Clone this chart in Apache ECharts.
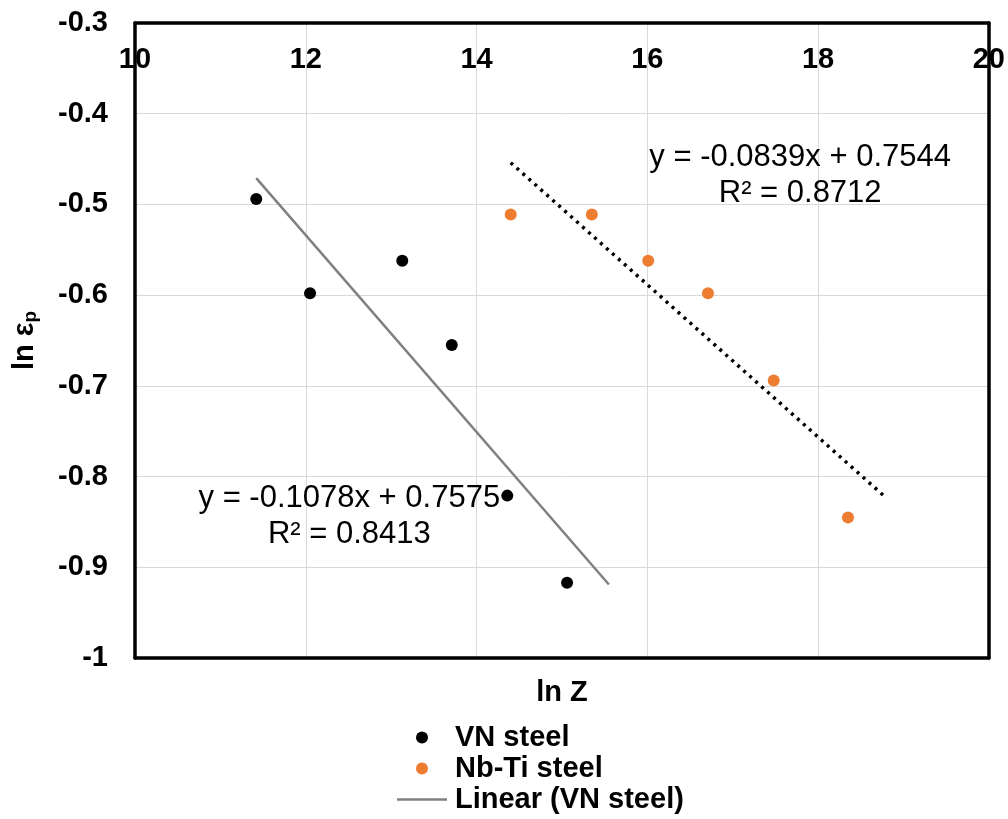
<!DOCTYPE html>
<html><head><meta charset="utf-8">
<script src="https://cdn.jsdelivr.net/npm/echarts@6/dist/echarts.min.js"></script>
<style>html,body{margin:0;padding:0;background:#fff}#c{width:1008px;height:819px}</style>
</head><body><div id="c"></div>
<script>
// Data
const vnSteel = [[11.42,-0.494],[12.05,-0.598],[13.13,-0.562],[13.71,-0.655],[14.36,-0.821],[15.06,-0.917]];
const nbTiSteel = [[14.40,-0.511],[15.35,-0.511],[16.01,-0.562],[16.71,-0.598],[17.48,-0.694],[18.35,-0.845]];
const vnTrend = [[11.42,-0.471],[15.55,-0.919]];
const nbTiTrend = [[14.40,-0.454],[18.78,-0.822]];
const vnEqPos = [[12.51,-0.8436]];
const nbEqPos = [[17.79,-0.4676]];
const vnEqText = 'y = -0.1078x + 0.7575\nR² = 0.8413';
const nbEqText = 'y = -0.0839x + 0.7544\nR² = 0.8712';

const FONT = '"Liberation Sans", Arial, sans-serif';
const BORDER = {show:true,lineStyle:{color:'#000',width:3.5}};
const chart = echarts.init(document.getElementById('c'));
chart.setOption({
  animation:false,
  textStyle:{fontFamily:FONT},
  grid:{left:135,top:23,right:19,bottom:161,show:false},
  xAxis:[{
    type:'value',position:'top',min:10,max:20,interval:2,
    axisLine:BORDER,axisTick:{show:false},
    splitLine:{show:true,lineStyle:{color:'#d9d9d9',width:1}},
    axisLabel:{inside:true,margin:22,color:'#000',fontWeight:'bold',fontSize:29,fontFamily:FONT}
  },{
    type:'value',position:'bottom',min:10,max:20,
    axisLine:BORDER,axisTick:{show:false},axisLabel:{show:false},splitLine:{show:false},
    name:'ln Z',nameLocation:'middle',nameGap:20,
    nameTextStyle:{color:'#000',fontWeight:'bold',fontSize:29,fontFamily:FONT}
  }],
  yAxis:[{
    type:'value',position:'left',min:-1,max:-0.3,interval:0.1,
    axisLine:BORDER,axisTick:{show:false},
    splitLine:{show:true,lineStyle:{color:'#d9d9d9',width:1}},
    axisLabel:{margin:27,color:'#000',fontWeight:'bold',fontSize:29,fontFamily:FONT,
      formatter:v=>{const r=Math.round(v*10)/10; return r===-1?'-1':String(r);}},
    name:'{a|ln ε}{b|p}',nameLocation:'middle',nameGap:95,nameRotate:90,
    nameTextStyle:{rich:{
      a:{color:'#000',fontWeight:'bold',fontSize:29,fontFamily:FONT},
      b:{color:'#000',fontWeight:'bold',fontSize:19,fontFamily:FONT,padding:[12,0,0,0]}
    }}
  },{
    type:'value',position:'right',min:-1,max:-0.3,
    axisLine:BORDER,axisTick:{show:false},axisLabel:{show:false},splitLine:{show:false}
  }],
  legend:{
    orient:'vertical',left:392,top:718,itemGap:2,itemWidth:56,itemHeight:12,
    data:[
      {name:'VN steel',icon:'circle'},
      {name:'Nb-Ti steel',icon:'circle'},
      {name:'Linear (VN steel)',icon:'path://M0,0L0,0M0,9.5L100,9.5L100,14.5L0,14.5ZM0,24L0,24'}
    ],
    textStyle:{color:'#000',fontWeight:'bold',fontSize:29,fontFamily:FONT,padding:[0,0,0,0]}
  },
  series:[
    {name:'Linear (VN steel)',type:'line',data:vnTrend,symbol:'none',
     lineStyle:{color:'#808080',width:2.5},itemStyle:{color:'#808080'},z:2},
    {name:'Linear (Nb-Ti steel)',type:'line',data:nbTiTrend,symbol:'none',
     lineStyle:{color:'#000',width:3.5,type:[3,5]},z:2},
    {name:'VN steel',type:'scatter',data:vnSteel,symbol:'circle',symbolSize:12,itemStyle:{color:'#000',opacity:1},z:3},
    {name:'Nb-Ti steel',type:'scatter',data:nbTiSteel,symbol:'circle',symbolSize:12,itemStyle:{color:'#ED7D31',opacity:1},z:3},
    {name:'eqVN',type:'scatter',data:vnEqPos,symbolSize:0,silent:true,z:4,itemStyle:{opacity:1},
     label:{show:true,position:'inside',formatter:vnEqText,color:'#000',fontSize:31,lineHeight:36,align:'center',fontFamily:FONT}},
    {name:'eqNb',type:'scatter',data:nbEqPos,symbolSize:0,silent:true,z:4,itemStyle:{opacity:1},
     label:{show:true,position:'inside',formatter:nbEqText,color:'#000',fontSize:31,lineHeight:36,align:'center',fontFamily:FONT}}
  ]
});
</script></body></html>
